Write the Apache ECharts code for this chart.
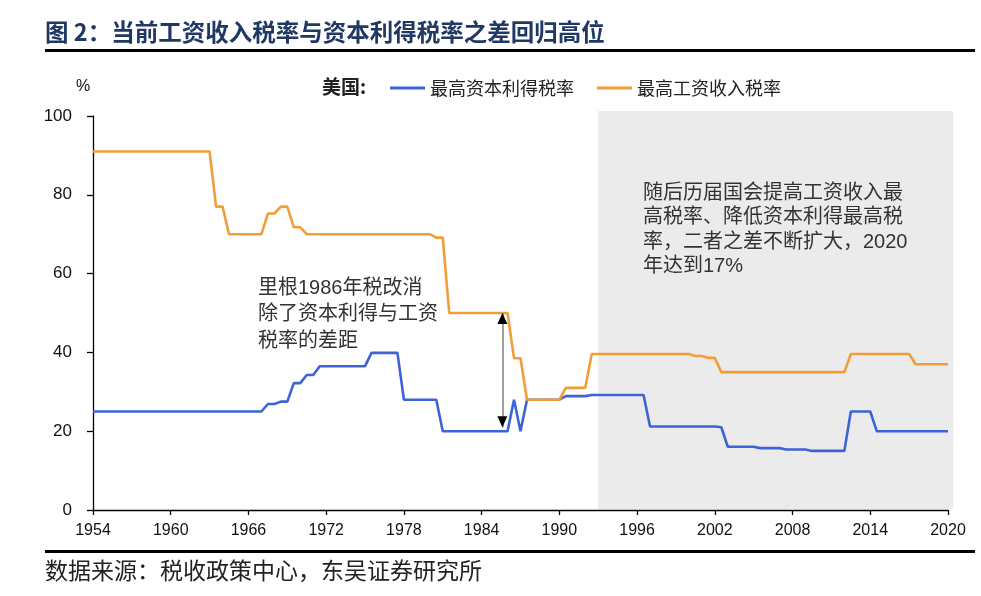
<!DOCTYPE html>
<html><head><meta charset="utf-8">
<script src="https://cdn.jsdelivr.net/npm/echarts@6/dist/echarts.min.js"></script>
<style>html,body{margin:0;padding:0;background:#fff}#c{width:981px;height:596px}</style>
</head><body><div id="c"></div>
<script>
// ---- data ----
const BASE_YEAR = 1954;
const LAST_YEAR = 2020;
const TICK_STEP = 6;
const seriesNames = ['最高资本利得税率', '最高工资收入税率'];

// 最高工资收入税率 (top wage income tax rate, %)
const wageYears = [1954, 1963, 1963.5, 1964, 1964.5, 1967, 1967.5, 1968, 1968.5, 1969, 1969.5, 1970, 1970.5,
  1980, 1980.5, 1981, 1981.5, 1986, 1986.5, 1987, 1987.5, 1990, 1990.5, 1992, 1992.5,
  2000, 2000.5, 2001, 2001.5, 2002, 2002.5, 2012, 2012.5, 2017, 2017.5, 2020];
const wageRates = [91, 91, 77, 77, 70, 70, 75.25, 75.25, 77, 77, 71.75, 71.75, 70,
  70, 69.13, 69.13, 50, 50, 38.5, 38.5, 28, 28, 31, 31, 39.6,
  39.6, 39.1, 39.1, 38.6, 38.6, 35, 35, 39.6, 39.6, 37, 37];

// 最高资本利得税率 (top capital gains tax rate, %)
const capYears = [1954, 1967, 1967.5, 1968, 1968.5, 1969, 1969.5, 1970, 1970.5, 1971, 1971.5, 1975, 1975.5,
  1977.5, 1978, 1980.5, 1981, 1986, 1986.5, 1987, 1987.5, 1990, 1990.5, 1992, 1992.5,
  1996.5, 1997, 2002, 2002.5, 2003, 2005, 2005.5, 2007, 2007.5, 2009, 2009.5, 2012, 2012.5,
  2014, 2014.5, 2020];
const capRates = [25, 25, 26.9, 26.9, 27.5, 27.5, 32.2, 32.2, 34.25, 34.25, 36.5, 36.5, 39.875,
  39.875, 28, 28, 20, 20, 28, 20, 28, 28, 28.9, 28.9, 29.2,
  29.2, 21.2, 21.2, 21.0, 16.05, 16.05, 15.7, 15.7, 15.35, 15.35, 15, 15, 25,
  25, 20, 20];

// shaded period and the 1986 gap arrow (data units)
const shadeYears = [1993, 2020.4];
const shadeRates = [0, 101.3];
const arrowYear = 1985.6;
const arrowRates = [50, 21];

// ---- chart ----
const SANS = "'Liberation Sans','Noto Sans CJK SC',sans-serif";
const CJK = "'Noto Sans CJK SC','Liberation Sans',sans-serif";
const toPts = (xs, ys) => xs.map((x, i) => [x - BASE_YEAR, ys[i]]);
const ax = arrowYear - BASE_YEAR;

const staticGraphics = [
  {type: 'text', left: 45, top: 20, style: {text: '图 2：当前工资收入税率与资本利得税率之差回归高位', fontFamily: CJK, fontWeight: 'bold', fontSize: 23.5, fill: '#1f3864'}},
  {type: 'rect', shape: {x: 45, y: 49, width: 930, height: 3}, style: {fill: '#000'}},
  {type: 'rect', shape: {x: 45, y: 550, width: 930, height: 3}, style: {fill: '#000'}},
  {type: 'text', left: 45, top: 559, style: {text: '数据来源：税收政策中心，东吴证券研究所', fontFamily: CJK, fontSize: 23, fill: '#222'}},
  {type: 'text', left: 76, top: 79, style: {text: '%', fontFamily: SANS, fontSize: 16, fill: '#111'}},
  {type: 'text', left: 322, top: 77, style: {text: '美国:', fontFamily: CJK, fontWeight: 'bold', fontSize: 19, fill: '#222'}},
  {type: 'text', left: 258, top: 275, z: 10, style: {text: '里根1986年税改消\n除了资本利得与工资\n税率的差距', fontFamily: SANS, fontSize: 20, lineHeight: 26.5, fill: '#333'}},
  {type: 'text', left: 643, top: 181, z: 10, style: {text: '随后历届国会提高工资收入最\n高税率、降低资本利得最高税\n率，二者之差不断扩大，2020\n年达到17%', fontFamily: SANS, fontSize: 20, lineHeight: 24.5, fill: '#333'}}
];

const chart = echarts.init(document.getElementById('c'), null, {renderer: 'canvas'});
chart.setOption({
  animation: false,
  backgroundColor: '#fff',
  grid: {left: 93, right: 33, top: 116, bottom: 86, containLabel: false},
  legend: {
    data: seriesNames,
    left: 385, top: 73,
    icon: 'rect', itemWidth: 35, itemHeight: 3, itemGap: 23,
    textStyle: {fontFamily: CJK, fontSize: 18, color: '#222', lineHeight: 20}
  },
  xAxis: {
    type: 'value', min: 0, max: LAST_YEAR - BASE_YEAR, interval: TICK_STEP,
    axisLine: {show: true, lineStyle: {color: '#000', width: 1.3}},
    axisTick: {show: true, inside: false, length: 5, lineStyle: {color: '#000', width: 1.3}},
    axisLabel: {formatter: v => String(v + BASE_YEAR), fontFamily: SANS, fontSize: 16, color: '#111', margin: 13},
    splitLine: {show: false}
  },
  yAxis: {
    type: 'value', min: 0, max: 100, interval: 20,
    axisLine: {show: true, lineStyle: {color: '#000', width: 1.3}},
    axisTick: {show: true, inside: false, length: 6, lineStyle: {color: '#000', width: 1.3}},
    axisLabel: {fontFamily: SANS, fontSize: 17, color: '#111', margin: 21},
    splitLine: {show: false}
  },
  graphic: staticGraphics,
  series: [
    {
      name: seriesNames[0], type: 'line', data: toPts(capYears, capRates), showSymbol: false, symbol: 'none',
      lineStyle: {color: '#3d63d9', width: 2.6}, itemStyle: {color: '#3d63d9'}, z: 3
    },
    {
      name: seriesNames[1], type: 'line', data: toPts(wageYears, wageRates), showSymbol: false, symbol: 'none',
      lineStyle: {color: '#f29e38', width: 2.6}, itemStyle: {color: '#f29e38'}, z: 4,
      markLine: {
        silent: true, symbol: 'none', label: {show: false},
        lineStyle: {color: '#808080', width: 1.5, type: 'solid'},
        data: [[{coord: [ax, arrowRates[0]]}, {coord: [ax, arrowRates[1]]}]]
      },
      markPoint: {
        silent: true, label: {show: false},
        itemStyle: {color: '#000'},
        data: [
          {coord: [ax, arrowRates[0]], symbol: 'triangle', symbolSize: [10, 11], symbolOffset: [0, 5.5]},
          {coord: [ax, arrowRates[1]], symbol: 'triangle', symbolSize: [10, 11], symbolOffset: [0, -5.5], symbolRotate: 180}
        ]
      }
    }
  ]
});

// shaded period: positioned through the chart's own scales
const p0 = chart.convertToPixel({gridIndex: 0}, [shadeYears[0] - BASE_YEAR, shadeRates[1]]);
const p1 = chart.convertToPixel({gridIndex: 0}, [shadeYears[1] - BASE_YEAR, shadeRates[0]]);
chart.setOption({
  graphic: staticGraphics.concat([{
    type: 'rect', z: -10, silent: true,
    shape: {x: p0[0], y: p0[1], width: p1[0] - p0[0], height: p1[1] - p0[1] - 1},
    style: {fill: '#ebebeb'}
  }])
}, {replaceMerge: ['graphic']});
</script></body></html>
